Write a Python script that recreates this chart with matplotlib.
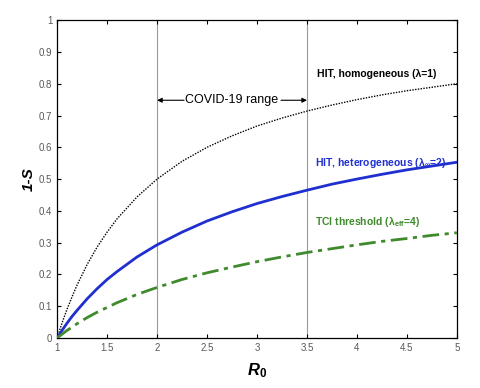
import matplotlib.pyplot as plt

plt.rcParams['font.family'] = ['Liberation Sans', 'DejaVu Sans']
plt.rcParams['mathtext.fontset'] = 'custom'
plt.rcParams['mathtext.rm'] = 'Liberation Sans:bold'
plt.rcParams['mathtext.it'] = 'Liberation Sans:bold:italic'
plt.rcParams['mathtext.bf'] = 'Liberation Sans:bold'

# R0 sample points and herd-immunity curves
r0 = [1.0, 1.05, 1.1, 1.15, 1.2, 1.3, 1.4, 1.5, 1.6, 1.8, 2.0, 2.25, 2.5, 2.75,
      3.0, 3.25, 3.5, 3.75, 4.0, 4.25, 4.5, 4.75, 5.0]
hit_homog = [0.0, 0.048, 0.091, 0.130, 0.167, 0.231, 0.286, 0.333, 0.375, 0.444,
             0.500, 0.556, 0.600, 0.636, 0.667, 0.692, 0.714, 0.733, 0.750, 0.765,
             0.778, 0.789, 0.800]
hit_hetero = [0.0, 0.024, 0.047, 0.068, 0.087, 0.123, 0.155, 0.184, 0.209, 0.255,
              0.293, 0.333, 0.368, 0.397, 0.423, 0.445, 0.465, 0.484, 0.500, 0.515,
              0.529, 0.541, 0.553]
tci = [0.0, 0.012, 0.024, 0.034, 0.045, 0.064, 0.081, 0.096, 0.111, 0.137,
       0.159, 0.184, 0.205, 0.223, 0.240, 0.255, 0.269, 0.281, 0.293, 0.304,
       0.313, 0.323, 0.331]
covid_range = [2.0, 3.5]

xticks = [1, 1.5, 2, 2.5, 3, 3.5, 4, 4.5, 5]
xticklabels = ['1', '1.5', '2', '2.5', '3', '3.5', '4', '4.5', '5']
yticks = [0, 0.1, 0.2, 0.3, 0.4, 0.5, 0.6, 0.7, 0.8, 0.9, 1]
yticklabels = ['0', '0.1', '0.2', '0.3', '0.4', '0.5', '0.6', '0.7', '0.8', '0.9', '1']

blue = '#1f2fd0'
green = '#3f8a2c'

fig = plt.figure(figsize=(4.8, 3.88), dpi=100)
ax = fig.add_axes([0.119, 0.129, 0.833, 0.819])

for xv in covid_range:
    ax.axvline(xv, color='0.6', lw=0.8, zorder=1)

ax.plot(r0, hit_homog, color='black', ls=(0, (1, 1)), lw=1.0, zorder=3)
ax.plot(r0, hit_hetero, color=blue, ls='-', lw=2.0, zorder=3)
ax.plot(r0, tci, color=green, ls=(0, (6, 2, 1.5, 2)), lw=2.0, zorder=3)

# COVID-19 range annotation
ax.text(2.75, 0.748, 'COVID-19 range', ha='center', va='center', fontsize=9)
ax.annotate('', xy=(2.0, 0.748), xytext=(2.27, 0.748),
            arrowprops=dict(arrowstyle='-|>', color='black', lw=0.8,
                            mutation_scale=7, shrinkA=0, shrinkB=0))
ax.annotate('', xy=(3.5, 0.748), xytext=(3.24, 0.748),
            arrowprops=dict(arrowstyle='-|>', color='black', lw=0.8,
                            mutation_scale=7, shrinkA=0, shrinkB=0))

# curve labels
ax.text(4.2, 0.83, 'HIT, homogeneous (λ=1)', ha='center', va='center',
        fontsize=7.5, fontweight='bold', color='black')
ax.text(4.24, 0.55, r'HIT, heterogeneous (λ$_{\mathrm{∞}}$=2)', ha='center', va='center',
        fontsize=7.5, fontweight='bold', color=blue)
ax.text(4.1, 0.365, r'TCI threshold (λ$_{\mathrm{eff}}$=4)', ha='center', va='center',
        fontsize=7.5, fontweight='bold', color=green)

ax.set_xlim(1, 5)
ax.set_ylim(0, 1)
ax.set_xticks(xticks)
ax.set_xticklabels(xticklabels)
ax.set_yticks(yticks)
ax.set_yticklabels(yticklabels)
ax.tick_params(direction='in', top=True, right=True, length=3, width=0.8,
               labelsize=7, labelcolor='0.35')
for sp in ax.spines.values():
    sp.set_linewidth(0.9)

ax.set_xlabel(r'$R_{\mathit{0}}$', fontsize=12, labelpad=6)
ax.set_ylabel('1-S', fontsize=11, fontweight='bold', fontstyle='italic', labelpad=2)

fig.savefig('out.png', dpi=100)
